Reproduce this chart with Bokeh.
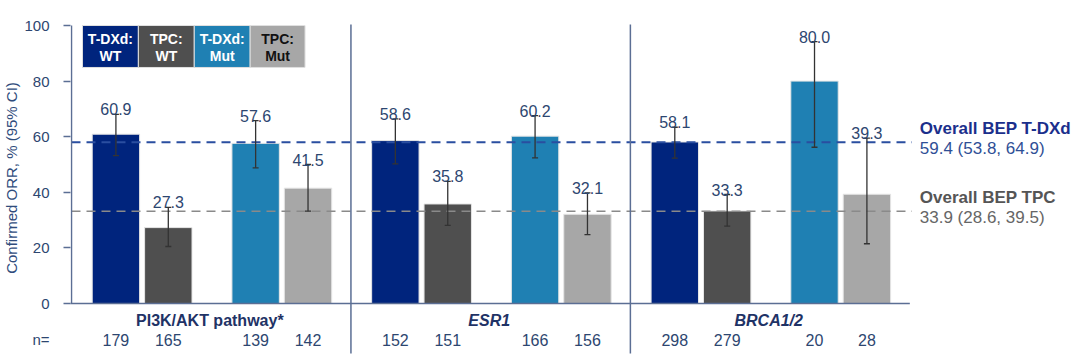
from bokeh.plotting import figure
from bokeh.models import Range1d, ColumnDataSource, FixedTicker
from bokeh.core.properties import value
from bokeh.embed import file_html
from bokeh.resources import INLINE

# ---------------- data ----------------
groups = ["PI3K/AKT pathway*", "ESR1", "BRCA1/2"]
group_italic = [False, True, True]
series = ["T-DXd: WT", "TPC: WT", "T-DXd: Mut", "TPC: Mut"]
legend_line1 = ["T-DXd:", "TPC:", "T-DXd:", "TPC:"]
legend_line2 = ["WT", "WT", "Mut", "Mut"]
colors = ["#00247d", "#4f4f4f", "#1f80b3", "#a7a7a7"]
legend_text_colors = ["white", "white", "white", "#111111"]

orr = [[60.9, 27.3, 57.6, 41.5],
       [58.6, 35.8, 60.2, 32.1],
       [58.1, 33.3, 80.0, 39.3]]
ci_low = [[53.2, 20.5, 48.8, 33.2],
          [50.2, 28.1, 52.4, 24.8],
          [52.3, 27.8, 56.2, 21.5]]
ci_high = [[68.0, 34.6, 65.8, 50.0],
           [66.4, 43.9, 67.6, 39.8],
           [63.4, 39.2, 94.2, 59.5]]
n_label = "n="
n_values = [[179, 165, 139, 142],
            [152, 151, 166, 156],
            [298, 279, 20, 28]]

overall_names = ["Overall BEP T-DXd", "Overall BEP TPC"]
overall_ci_text = ["59.4 (53.8, 64.9)", "33.9 (28.6, 39.5)"]
overall_line_level = [58.0, 33.2]   # as drawn in the picture
overall_colors = ["#2a4ea0", "#8a8a8a"]
overall_text_colors = ["#1b2f8c", "#555555"]
overall_ci_colors = ["#2f4f96", "#666666"]

y_ticks = [0, 20, 40, 60, 80, 100]
y_label = "Confirmed ORR, % (95% CI)"

# ---------------- layout constants ----------------
FONT = "Liberation Sans"
GW = 280.0                      # px per group
offsets = [44.5 / GW, 97 / GW, 184.5 / GW, 237 / GW]
bar_w = 47.5 / GW
TXT = "#2d4670"
AX = "#5b6e94"
N_ROW = -13.0                   # y position of the n= row
Y_TOP, Y_BOT = 108.993, -18.705

p = figure(width=1072, height=355, output_backend="svg", toolbar_location=None,
           x_range=Range1d(-1 / GW, 1003 / GW), y_range=Range1d(Y_BOT, Y_TOP),
           min_border_left=69, min_border_right=0, min_border_top=0, min_border_bottom=0)
p.outline_line_color = None
p.grid.visible = False
p.xaxis.visible = False
p.background_fill_color = "white"

ya = p.yaxis[0]
ya.bounds = (N_ROW, Y_TOP)
ya.ticker = FixedTicker(ticks=[N_ROW] + y_ticks, minor_ticks=y_ticks)
ya.major_label_overrides = {N_ROW: n_label}
ya.axis_line_color = None
ya.major_tick_line_color = None
ya.major_tick_out = 0
ya.major_tick_in = 0
ya.minor_tick_line_color = AX
ya.minor_tick_line_width = 1.5
ya.minor_tick_out = 7
ya.minor_tick_in = 0
ya.major_label_text_font = FONT
ya.major_label_text_font_size = "15px"
ya.major_label_text_color = TXT
ya.major_label_standoff = 14
ya.axis_label = y_label
ya.axis_label_text_font = FONT
ya.axis_label_text_font_style = "normal"
ya.axis_label_text_font_size = "15px"
ya.axis_label_text_color = "#2f4c7c"
ya.axis_label_standoff = 1

# bars
xs, tops, lows, highs, cols, labs, ns = [], [], [], [], [], [], []
for g in range(len(groups)):
    for s in range(len(series)):
        xs.append(g + offsets[s])
        tops.append(orr[g][s])
        lows.append(ci_low[g][s])
        highs.append(ci_high[g][s])
        cols.append(colors[s])
        labs.append(f"{orr[g][s]:.1f}")
        ns.append(str(n_values[g][s]))
src = ColumnDataSource(dict(x=xs, top=tops, low=lows, high=highs, color=cols, lab=labs, n=ns))

p.vbar(x="x", top="top", bottom=0, width=bar_w, fill_color="color", line_color="#e6e6e6",
       line_width=1, source=src)

# reference lines
for lvl, c, w in zip(overall_line_level, overall_colors, [2, 1.6]):
    p.line([0, 3.0075], [lvl, lvl], line_color=c, line_width=w, line_dash="9 6")

# error bars
p.segment(x0="x", x1="x", y0="low", y1="high", line_color="#333333", line_width=1.3, source=src)
p.dash(x="x", y="high", size=6, line_color="#333333", line_width=1.3, source=src)
p.dash(x="x", y="low", size=6, line_color="#333333", line_width=1.3, source=src)

# value labels
p.text(x="x", y="high", text="lab", source=src, text_align="center", text_baseline="alphabetic",
       y_offset=-5, text_font=value(FONT), text_font_size="16px", text_color=TXT)

# axis lines (y axis line at x=0 from 0 to 100, x axis line at y=0)
p.segment(x0=[0], x1=[0], y0=[0], y1=[100], line_color=AX, line_width=1.5)
p.segment(x0=[-4 / GW], x1=[840 / GW], y0=[0], y1=[0], line_color=AX, line_width=1.5)

# separators
p.segment(x0=[1, 2], x1=[1, 2], y0=[100.4, 100.4], y1=[-18.0, -18.0], line_color=AX, line_width=1.5)

# group labels
for g, name in enumerate(groups):
    p.text(x=[g + 0.495], y=[-6.1], text=[name], text_align="center", text_baseline="middle",
           text_font=value(FONT), text_font_size="16px",
           text_font_style="bold italic" if group_italic[g] else "bold", text_color="#1f3366")

# n row
p.text(x="x", y=N_ROW, text="n", source=src, text_align="center", text_baseline="middle",
       text_font=value(FONT), text_font_size="16px", text_color=TXT)

# legend boxes
edges = [11 / GW, 67 / GW, 123 / GW, 179 / GW, 234 / GW]
p.quad(left=edges[:-1], right=edges[1:], top=[100] * 4, bottom=[84.9] * 4,
       fill_color=colors, line_color="#e0e0e0", line_width=1)
cx = [(edges[i] + edges[i + 1]) / 2 for i in range(4)]
p.text(x=cx, y=[95.3] * 4, text=legend_line1, text_align="center", text_baseline="middle",
       text_font=value(FONT), text_font_size="14px", text_font_style="bold",
       text_color=legend_text_colors)
p.text(x=cx, y=[89.2] * 4, text=legend_line2, text_align="center", text_baseline="middle",
       text_font=value(FONT), text_font_size="14px", text_font_style="bold",
       text_color=legend_text_colors)

# right-side annotations
ax_x = 850 / GW
p.text(x=[ax_x], y=[63.1], text=[overall_names[0]], text_baseline="middle", text_font=value(FONT),
       text_font_size="17px", text_font_style="bold", text_color=overall_text_colors[0])
p.text(x=[ax_x], y=[55.9], text=[overall_ci_text[0]], text_baseline="middle", text_font=value(FONT),
       text_font_size="17px", text_color=overall_ci_colors[0])
p.text(x=[ax_x], y=[38.2], text=[overall_names[1]], text_baseline="middle", text_font=value(FONT),
       text_font_size="17px", text_font_style="bold", text_color=overall_text_colors[1])
p.text(x=[ax_x], y=[31.0], text=[overall_ci_text[1]], text_baseline="middle", text_font=value(FONT),
       text_font_size="17px", text_color=overall_ci_colors[1])

open("out.html", "w").write(file_html(p, INLINE))
